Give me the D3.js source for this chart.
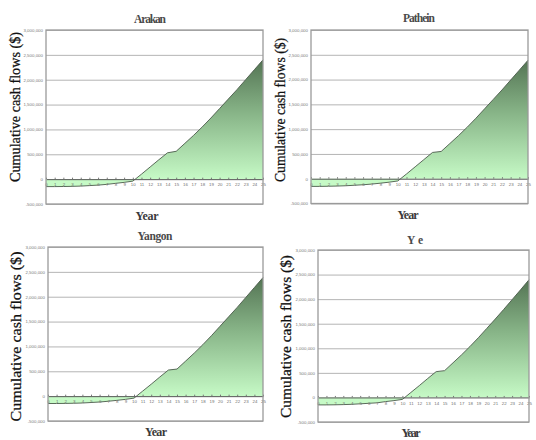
<!DOCTYPE html>
<html>
<head>
<meta charset="utf-8">
<script src="https://cdn.jsdelivr.net/npm/d3@7/dist/d3.min.js"></script>
<style>
  html, body { margin: 0; padding: 0; background: #fff; }
  svg { display: block; }
</style>
</head>
<body>
<svg id="chart" width="536" height="440"></svg>
<script>
// Project years on the category axis
const years = [0,1,2,3,4,5,6,7,8,9,10,11,12,13,14,15,16,17,18,19,20,21,22,23,24,25];

// Cumulative cash flows ($) by site
const arakan  = [-150000,-150000,-148000,-145000,-140000,-130000,-120000,-105000,-85000,-65000,-40000,100000,245000,390000,530000,560000,720000,880000,1050000,1230000,1420000,1610000,1800000,2000000,2200000,2400000];
const pathein = [-155000,-155000,-152000,-148000,-142000,-132000,-122000,-108000,-90000,-70000,-45000,95000,240000,385000,530000,550000,710000,870000,1040000,1220000,1410000,1600000,1790000,1990000,2190000,2390000];
const yangon  = [-148000,-148000,-146000,-143000,-138000,-128000,-118000,-103000,-85000,-65000,-40000,100000,240000,385000,525000,545000,705000,865000,1035000,1215000,1405000,1595000,1785000,1985000,2185000,2385000];
const ye      = [-152000,-152000,-150000,-146000,-140000,-130000,-120000,-110000,-85000,-65000,-40000,100000,240000,385000,525000,545000,705000,865000,1035000,1215000,1405000,1595000,1790000,1990000,2190000,2395000];

const siteNames = ["Arakan", "Pathein", "Yangon", "Ye"];
const siteSeries = [arakan, pathein, yangon, ye];

// Value axis
const yTicks = [-500000, 0, 500000, 1000000, 1500000, 2000000, 2500000, 3000000];
const yDomain = [-500000, 3000000];

const yAxisTitle = "Cumulative cash flows ($)";
const xAxisTitle = "Year";

// Panel frames: plot rectangle and text placements
const panels = [
  { x0: 46,  x1: 263, y0: 30,  y1: 204,
    title: { x: 150, y: 23, len: 32 }, xt: { x: 147, y: 220, len: 23 }, yt: { x: 15,  y: 107, len: 150, size: 14 } },
  { x0: 311, x1: 528, y0: 30,  y1: 203.5,
    title: { x: 419, y: 22, len: 32 }, xt: { x: 408, y: 219, len: 21 }, yt: { x: 280, y: 110, len: 144, size: 14 } },
  { x0: 48,  x1: 263, y0: 247, y1: 421,
    title: { x: 155, y: 240, len: 35 }, xt: { x: 156, y: 436, len: 22 }, yt: { x: 16,  y: 336.5, len: 170, size: 15.5 } },
  { x0: 318, x1: 529, y0: 250, y1: 422,
    title: { x: 415, y: 244, len: 16 }, xt: { x: 411, y: 436.5, len: 19 }, yt: { x: 286, y: 336.5, len: 163, size: 14.5 } }
];

const svg = d3.select("#chart");
const defs = svg.append("defs");
const fmt = v => d3.format(",")(v).replace("\u2212", "-");
const serif = "'Liberation Serif', 'DejaVu Serif', serif";

panels.forEach((p, i) => {
  const values = siteSeries[i];
  const data = years.map((yr, k) => ({ year: yr, value: values[k] }));

  const x = d3.scalePoint().domain(years).range([p.x0, p.x1]);
  const y = d3.scaleLinear().domain(yDomain).range([p.y1, p.y0]);

  const g = svg.append("g");

  // Horizontal gridlines
  g.append("g")
    .attr("transform", `translate(${p.x0},0)`)
    .call(d3.axisLeft(y).tickValues(yTicks).tickSize(-(p.x1 - p.x0)).tickFormat(fmt))
    .call(a => a.select(".domain").remove())
    .call(a => a.selectAll(".tick line")
      .attr("stroke", d => d === 0 ? "none" : "#b4b4b4").attr("stroke-width", 1))
    .call(a => a.selectAll(".tick text")
      .attr("x", -3).attr("fill", "#7a7a7a")
      .style("font-family", "'Liberation Sans', Arial, sans-serif").style("font-size", "4.4px"));

  // Gradient filling the area from zero to the series
  const gid = "grad" + i;
  const top = d3.max(values);
  const grad = defs.append("linearGradient")
    .attr("id", gid).attr("gradientUnits", "userSpaceOnUse")
    .attr("x1", 0).attr("x2", 0).attr("y1", y(top)).attr("y2", y(0));
  grad.append("stop").attr("offset", "0%").attr("stop-color", "#547454");
  grad.append("stop").attr("offset", "45%").attr("stop-color", "#88b588");
  grad.append("stop").attr("offset", "100%").attr("stop-color", "#c6fac6");

  const area = d3.area()
    .x(d => x(d.year))
    .y0(y(0))
    .y1(d => y(d.value));
  g.append("path").datum(data)
    .attr("d", area)
    .attr("fill", `url(#${gid})`);

  const line = d3.line().x(d => x(d.year)).y(d => y(d.value));
  g.append("path").datum(data)
    .attr("d", line)
    .attr("fill", "none")
    .attr("stroke", "#4a5a4a")
    .attr("stroke-width", 0.9);

  // Category axis on the zero line
  g.append("g")
    .attr("transform", `translate(0,${y(0)})`)
    .call(d3.axisBottom(x).tickSize(-1.5).tickSizeOuter(0).tickPadding(4))
    .call(a => a.select(".domain").attr("stroke", "#555").attr("stroke-width", 1))
    .call(a => a.selectAll(".tick line").attr("stroke", "#777"))
    .call(a => a.selectAll(".tick text")
      .attr("fill", "#707070")
      .style("font-family", "'Liberation Sans', Arial, sans-serif").style("font-size", "4.4px"));

  // Plot frame
  g.append("rect")
    .attr("x", p.x0).attr("y", p.y0)
    .attr("width", p.x1 - p.x0).attr("height", p.y1 - p.y0)
    .attr("fill", "none").attr("stroke", "#9a9a9a").attr("stroke-width", 1.3);

  // Site title
  g.append("text")
    .attr("x", p.title.x).attr("y", p.title.y)
    .attr("text-anchor", "middle")
    .attr("textLength", p.title.len).attr("lengthAdjust", "spacing")
    .style("font-family", serif).style("font-size", "11.5px").style("font-weight", "bold")
    .attr("fill", "#4a4a4a")
    .text(siteNames[i]);

  // Axis titles
  g.append("text")
    .attr("x", p.xt.x).attr("y", p.xt.y)
    .attr("text-anchor", "middle")
    .attr("textLength", p.xt.len).attr("lengthAdjust", "spacing")
    .style("font-family", serif).style("font-size", "12px").style("font-weight", "bold")
    .attr("fill", "#3a3a3a")
    .text(xAxisTitle);

  g.append("text")
    .attr("transform", `translate(${p.yt.x + p.yt.size * 0.35},${p.yt.y}) rotate(-90)`)
    .attr("text-anchor", "middle")
    .attr("textLength", p.yt.len).attr("lengthAdjust", "spacingAndGlyphs")
    .style("font-family", serif).style("font-size", p.yt.size + "px")
    .attr("fill", "#111")
    .attr("stroke", "#111").attr("stroke-width", 0.25)
    .text(yAxisTitle);
});
</script>
</body>
</html>
